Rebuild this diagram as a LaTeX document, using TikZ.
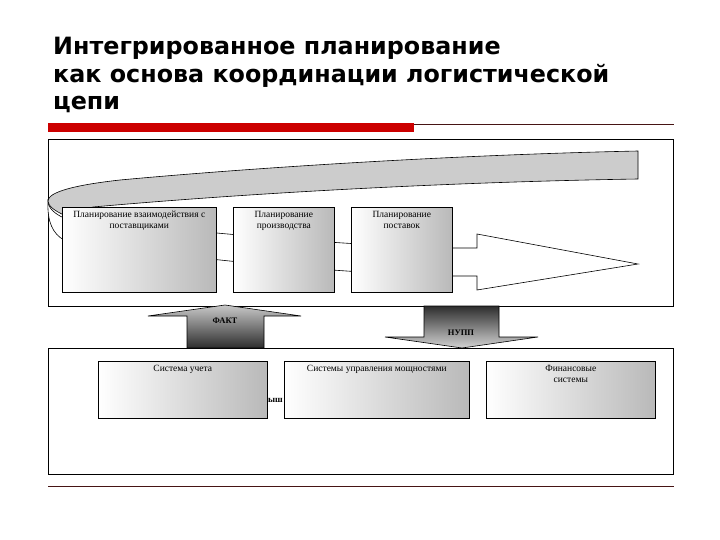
\documentclass[tikz,border=0pt]{standalone}
\usepackage{fontspec}
\setmainfont{Liberation Serif}
\newfontfamily\titlefont{DejaVu Sans}
\definecolor{redbar}{RGB}{204,0,0}
\definecolor{darkline}{RGB}{70,20,20}
\definecolor{ribbongray}{RGB}{204,204,204}
\definecolor{darkarrow}{RGB}{45,45,45}
\definecolor{lightarrow}{RGB}{200,200,200}
\tikzset{
  pbox/.style={draw=black, line width=0.6pt, left color=white, right color=gray!55,
    anchor=north west, inner sep=0pt},
  ptext/.style={font=\fontsize{9.5}{11}\selectfont, align=center, anchor=north, inner sep=1pt},
  titleline/.style={font=\titlefont\bfseries\fontsize{23.8}{28}\selectfont, anchor=base west, inner sep=0pt},
  frame/.style={draw=black, line width=0.8pt},
  outl/.style={draw=black, line width=0.6pt},
  arrtext/.style={font=\bfseries\fontsize{8.5}{10}\selectfont, inner sep=1pt},
}
\begin{document}
\begin{tikzpicture}[x=1pt,y=-1pt]
\useasboundingbox (0,0) rectangle (720,540);
\fill[white] (0,0) rectangle (720,540);
% title
\node[titleline] (t1) at (53,55) {Интегрированное планирование};
\node[titleline] (t2) at (53,82.5) {как основа координации логистической};
\node[titleline] (t3) at (53,110) {цепи};
% red bar and lines
\fill[redbar] (48,123.5) rectangle (414,132);
\draw[darkline, line width=0.8pt] (414,124) -- (674,124);
\draw[darkline, line width=1.2pt] (48,486.5) -- (674,486.5);
% frames
\draw[frame] (48,139) rectangle (673,306);
\draw[frame] (48,348) rectangle (673,474);
% white underside of ribbon with arrow head
\path[outl, fill=white] (48,201) .. controls (47,222) and (53,234) .. (64,240)
  .. controls (150,253) and (300,272) .. (452,276) -- (477,276) -- (477,290)
  -- (638,264) -- (477,234) -- (477,248) -- (452,248)
  .. controls (300,244) and (150,226) .. (64,218)
  .. controls (55,214) and (48,208) .. cycle;
% gray top band
\path[outl, fill=ribbongray] (638,151) .. controls (450,155) and (250,168) .. (120,180)
  .. controls (75,185) and (48,192) .. (48,201)
  .. controls (48,206) and (55,211) .. (64,215)
  -- (93,207)
  .. controls (250,193) and (450,182) .. (638,179) -- cycle;
% top boxes
\node[pbox, minimum width=154pt, minimum height=85pt] (b1) at (62,207) {};
\node[pbox, minimum width=101pt, minimum height=85pt] (b2) at (233,207) {};
\node[pbox, minimum width=101pt, minimum height=85pt] (b3) at (351,207) {};
\node[ptext] (b1t) at ([yshift=-3pt]b1.north) {Планирование взаимодействия с\\поставщиками};
\node[ptext] (b2t) at ([yshift=-3pt]b2.north) {Планирование\\производства};
\node[ptext] (b3t) at ([yshift=-3pt]b3.north) {Планирование\\поставок};
% FAKT arrow (up)
\path[outl, top color=lightarrow, bottom color=darkarrow]
  (187,348) -- (187,316) -- (148,316) -- (225,305) -- (301,316) -- (264,316) -- (264,348) -- cycle;
\node[arrtext] (fakt) at (225,321) {ФАКТ};
% NUPP arrow (down)
\path[outl, top color=darkarrow, bottom color=lightarrow!80!white]
  (424,306) -- (424,337) -- (385,337) -- (462,348) -- (538,337) -- (499,337) -- (499,306) -- cycle;
\node[arrtext] (nupp) at (461,333) {НУПП};
% bottom boxes
\node[pbox, minimum width=169pt, minimum height=57pt] (s1) at (98,361) {};
\node[font=\bfseries\fontsize{9}{11}\selectfont, anchor=west, inner sep=0pt] (hid) at (268,400) {ыш};
\node[pbox, minimum width=185pt, minimum height=57pt] (s2) at (284,361) {};
\node[pbox, minimum width=169pt, minimum height=57pt] (s3) at (486,361) {};
\node[ptext] (s1t) at ([yshift=-3pt]s1.north) {Система учета};
\node[ptext] (s2t) at ([yshift=-3pt]s2.north) {Системы управления мощностями};
\node[ptext] (s3t) at ([yshift=-3pt]s3.north) {Финансовые\\системы};
\end{tikzpicture}
\end{document}
